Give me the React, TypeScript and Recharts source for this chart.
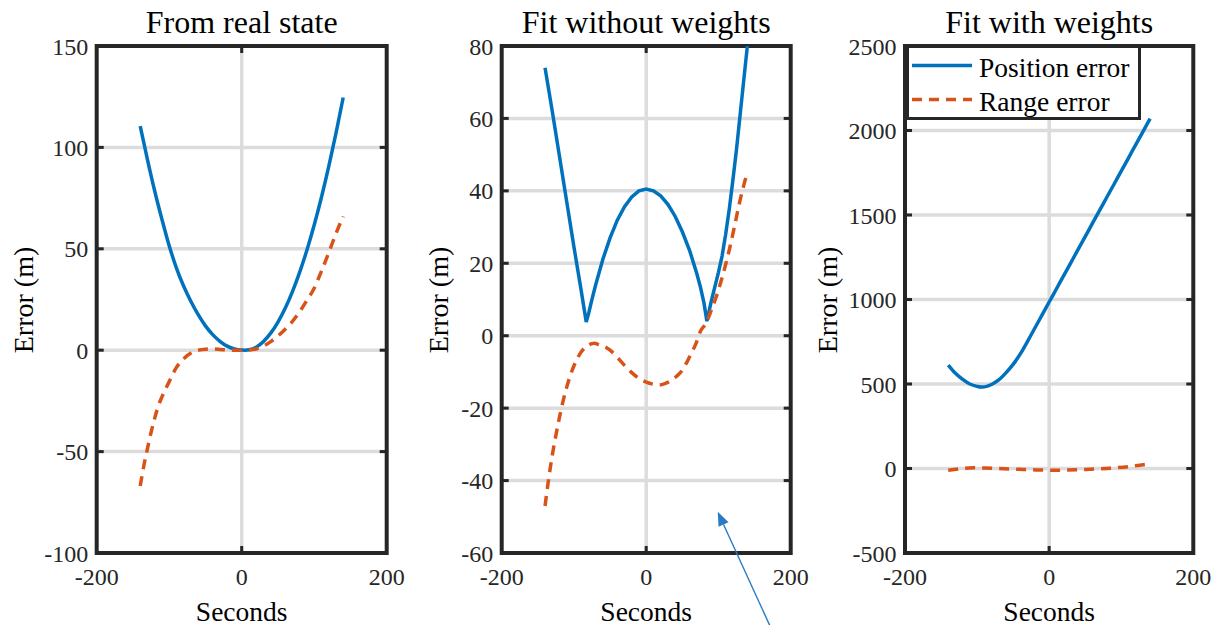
import React from 'react';
import { LineChart, Line, XAxis, YAxis, CartesianGrid, Legend, ReferenceLine, ReferenceArea } from 'recharts';

const BLUE = '#0072BD';
const ORANGE = '#D95319';
const INK = '#262626';
const GRID = '#dcdcdc';
const FONT = "'Liberation Serif', 'Times New Roman', serif";

const secondsTicks = [-200, 0, 200];

// From real state
const realPosT = [-140, -130, -120, -110, -100, -90, -80, -70, -60, -50, -40, -30, -20, -10, 0, 5, 10, 20, 30, 40, 50, 60, 70, 80, 90, 100, 110, 120, 130, 140];
const realPosErr = [110.5, 94, 78.5, 64.5, 51.5, 40.5, 31.5, 24, 17.5, 12, 7.7, 4.4, 2, 0.6, 0.05, 0, 0.2, 1.5, 4.3, 8.4, 13.9, 20.7, 28.9, 38.5, 49.4, 61.7, 75.4, 90.5, 106.9, 124.6];
const realRangeT = [-140, -135, -130, -125, -120, -115, -110, -100, -90, -80, -70, -60, -50, -40, -30, -20, -10, 0, 10, 20, 30, 40, 50, 60, 70, 80, 90, 100, 110, 120, 130, 140];
const realRangeErr = [-67, -57, -48.5, -40.5, -33.5, -27.5, -23, -15.5, -8.5, -4.2, -1.4, 0, 0.5, 0.6, 0.4, 0.1, 0, 0, 0.1, 0.6, 2, 4.2, 7, 10.3, 14.2, 19, 24.6, 30.5, 39, 48, 57.5, 66];
const realTicks = [-100, -50, 0, 50, 100, 150];

// Fit without weights
const noWPosT = [-140, -130, -120, -110, -100, -90, -83, -80, -75, -70, -60, -50, -40, -30, -20, -10, 0, 10, 20, 30, 40, 50, 60, 70, 75, 80, 84, 90, 95, 100, 105, 110, 115, 120, 125, 130, 135, 140];
const noWPosErr = [74, 62, 49.5, 37, 24.5, 12.5, 3.8, 5.9, 10.1, 14, 21.1, 27, 31.9, 35.6, 38.3, 40, 40.5, 40, 38.6, 36.3, 33, 28.7, 23.6, 17.2, 13.5, 9, 4, 9.5, 13.5, 17.5, 22, 28, 35, 43, 51.5, 61, 70.5, 80];
const noWRangeT = [-140, -135, -130, -125, -120, -115, -110, -100, -90, -80, -72, -65, -55, -50, -40, -30, -20, -10, 0, 10, 18, 25, 35, 42, 50, 55, 62, 69, 75, 83, 90, 97, 105, 115, 122, 129, 135, 140];
const noWRangeErr = [-47, -39.5, -33, -27.5, -22.5, -18, -14.2, -8.3, -4.5, -2.6, -2.1, -2.5, -3.3, -4, -6, -8.2, -10.2, -11.8, -12.8, -13.4, -13.6, -13.3, -12.3, -11.2, -9.5, -7.8, -5, -2.1, 1.2, 3.5, 7, 10.8, 16, 23.7, 30, 36.6, 41.5, 45];
const noWTicks = [-60, -40, -20, 0, 20, 40, 60, 80];

// Fit with weights
const wPosT = [-140, -130, -120, -110, -100, -95, -90, -80, -70, -60, -50, -40, -30, -20, -10, 0, 10, 20, 30, 40, 50, 60, 70, 80, 90, 100, 110, 120, 130, 140];
const wPosErr = [612, 563, 527, 500, 486, 482, 483, 497, 524, 566, 616, 678, 752, 830, 907, 985, 1062, 1140, 1217, 1295, 1372, 1450, 1527, 1605, 1682, 1760, 1837, 1915, 1992, 2070];
const wRangeT = [-140, -120, -105, -90, -73, -55, -36, -18, 0, 20, 38, 55, 70, 85, 103, 120, 140];
const wRangeErr = [-10, 0, 4, 3, 0, -3, -6, -8.5, -10, -9.5, -8, -5, -2, 2, 8, 16, 28];
const wTicks = [-500, 0, 500, 1000, 1500, 2000, 2500];

// annotation arrow (data coords of middle panel): tail, tip
const arrowSeg = [
  { x: 174, y: -81.3 },
  { x: 99, y: -48.6 },
];

const POS_NAME = 'Position error';
const RANGE_NAME = 'Range error';
const dashFor: Record<string, string | undefined> = { [POS_NAME]: undefined, [RANGE_NAME]: '10 7' };

const zip = (t: number[], v: number[]) => t.map((s, i) => ({ t: s, err: v[i] }));

const tickStyle = { fontSize: 24, fill: INK, fontFamily: FONT };

const PLOT_W = 289; // px, used only to size the inward tick stubs
const PLOT_H = 507;
const STUB = 7;

function BoxLegend({ payload }: any) {
  if (!payload?.length) return null;
  return (
    <svg width={235} height={75} style={{ display: 'block' }}>
      <rect x={1.5} y={1.5} width={232} height={72} fill="#fff" stroke={INK} strokeWidth={3} />
      {payload.map((entry: any, i: number) => {
        const cy = 20.5 + i * 34;
        return (
          <g key={entry.value}>
            <line x1={6} x2={66} y1={cy} y2={cy} stroke={entry.color} strokeWidth={3.5} strokeDasharray={dashFor[entry.value]} />
            <text x={73} y={cy + 11} fontSize={27.5} fontFamily={FONT} fill="#000">
              {entry.value}
            </text>
          </g>
        );
      })}
    </svg>
  );
}

function Arrow(props: any) {
  const { x1, y1, x2, y2 } = props;
  const ang = Math.atan2(y2 - y1, x2 - x1);
  const len = 14;
  const half = 5.5;
  const bx = x2 - len * Math.cos(ang);
  const by = y2 - len * Math.sin(ang);
  const px = -Math.sin(ang) * half;
  const py = Math.cos(ang) * half;
  return (
    <g>
      <line x1={x1} y1={y1} x2={bx} y2={by} stroke="#2a7bc4" strokeWidth={1.4} />
      <polygon points={`${x2},${y2} ${bx + px},${by + py} ${bx - px},${by - py}`} fill="#2a7bc4" />
    </g>
  );
}

interface PanelProps {
  left: number;
  width: number;
  mLeft: number;
  mRight: number;
  yTicks: number[];
  pos: { t: number; err: number }[];
  range: { t: number; err: number }[];
  posCurve?: 'monotone' | 'linear';
  legend?: boolean;
  arrow?: boolean;
}

function Panel({ left, width, mLeft, mRight, yTicks, pos, range, posCurve = 'monotone', legend, arrow }: PanelProps) {
  const yMin = yTicks[0];
  const yMax = yTicks[yTicks.length - 1];
  const stubX = (400 * STUB) / PLOT_W;
  const stubY = ((yMax - yMin) * STUB) / PLOT_H;
  // grid only on interior ticks, the black box is drawn separately
  const hGrid = ({ offset }: any) =>
    yTicks.slice(1, -1).map((v) => offset.top + (offset.height * (yMax - v)) / (yMax - yMin));
  const vGrid = ({ offset }: any) =>
    secondsTicks.slice(1, -1).map((v) => offset.left + (offset.width * (v + 200)) / 400);
  const stubs: { x: number; y: number }[][] = [];
  yTicks.slice(1, -1).forEach((v) => {
    stubs.push([{ x: -200, y: v }, { x: -200 + stubX, y: v }]);
    stubs.push([{ x: 200, y: v }, { x: 200 - stubX, y: v }]);
  });
  secondsTicks.slice(1, -1).forEach((s) => {
    stubs.push([{ x: s, y: yMin }, { x: s, y: yMin + stubY }]);
    stubs.push([{ x: s, y: yMax }, { x: s, y: yMax - stubY }]);
  });
  return (
    <div style={{ position: 'absolute', left, top: 0 }}>
      <LineChart width={width} height={625} margin={{ top: 46, bottom: 32, left: mLeft, right: mRight }}>
        <CartesianGrid
          stroke={GRID}
          strokeWidth={3.5}
          horizontalCoordinatesGenerator={hGrid}
          verticalCoordinatesGenerator={vGrid}
        />
        <XAxis
          type="number"
          dataKey="t"
          domain={[-200, 200]}
          ticks={secondsTicks}
          interval={0}
          allowDataOverflow
          height={40}
          tick={tickStyle}
          tickSize={0}
          tickMargin={15}
          axisLine={false}
          tickLine={false}
        />
        <YAxis
          type="number"
          domain={[yMin, yMax]}
          ticks={yTicks}
          interval={0}
          allowDataOverflow
          width={60}
          tick={tickStyle}
          tickSize={0}
          tickMargin={8.4}
          axisLine={false}
          tickLine={false}
        />
        <Line
          data={pos}
          dataKey="err"
          name={POS_NAME}
          type={posCurve}
          stroke={BLUE}
          strokeWidth={3.5}
          dot={false}
          activeDot={false}
          isAnimationActive={false}
        />
        <Line
          data={range}
          dataKey="err"
          name={RANGE_NAME}
          type="monotone"
          stroke={ORANGE}
          strokeWidth={3.5}
          strokeDasharray={dashFor[RANGE_NAME]}
          dot={false}
          activeDot={false}
          isAnimationActive={false}
        />
        {stubs.map((seg, i) => (
          <ReferenceLine key={i} segment={seg} stroke={INK} strokeWidth={3} ifOverflow="visible" />
        ))}
        <ReferenceArea
          x1={-200}
          x2={200}
          y1={yMin}
          y2={yMax}
          fill="none"
          fillOpacity={0}
          stroke={INK}
          strokeWidth={4}
          strokeOpacity={1}
          ifOverflow="visible"
        />
        {arrow && <ReferenceLine segment={arrowSeg} ifOverflow="visible" shape={<Arrow />} />}
        {legend && (
          <Legend
            layout="vertical"
            align="center"
            verticalAlign="middle"
            content={<BoxLegend />}
            wrapperStyle={{ left: 95.5, top: 44.5, width: 235, height: 75 }}
          />
        )}
      </LineChart>
    </div>
  );
}

const titles = [
  { text: 'From real state', cx: 241.7, ylab: 33.3 },
  { text: 'Fit without weights', cx: 646.2, ylab: 448 },
  { text: 'Fit with weights', cx: 1049.2, ylab: 837 },
];

export default function App() {
  return (
    <div style={{ position: 'absolute', left: 0, top: 0, width: 1211, height: 625, background: '#fff', overflow: 'hidden' }}>
      <Panel left={0} width={410} mLeft={36.7} mRight={23.3} yTicks={realTicks} pos={zip(realPosT, realPosErr)} range={zip(realRangeT, realRangeErr)} />
      <Panel left={410} width={400} mLeft={31.7} mRight={19.3} yTicks={noWTicks} pos={zip(noWPosT, noWPosErr)} range={zip(noWRangeT, noWRangeErr)} posCurve="linear" arrow />
      <Panel left={810} width={401} mLeft={35} mRight={17.7} yTicks={wTicks} pos={zip(wPosT, wPosErr)} range={zip(wRangeT, wRangeErr)} legend />
      <svg width={1211} height={625} style={{ position: 'absolute', left: 0, top: 0, pointerEvents: 'none' }}>
        {titles.map((p) => (
          <g key={p.text} fontFamily={FONT} fill="#000">
            <text x={p.cx} y={33} fontSize={32} textAnchor="middle">
              {p.text}
            </text>
            <text x={p.cx} y={620.5} fontSize={27.5} textAnchor="middle">
              Seconds
            </text>
            <text transform={`translate(${p.ylab},300) rotate(-90)`} fontSize={28} textAnchor="middle">
              Error (m)
            </text>
          </g>
        ))}
      </svg>
    </div>
  );
}
